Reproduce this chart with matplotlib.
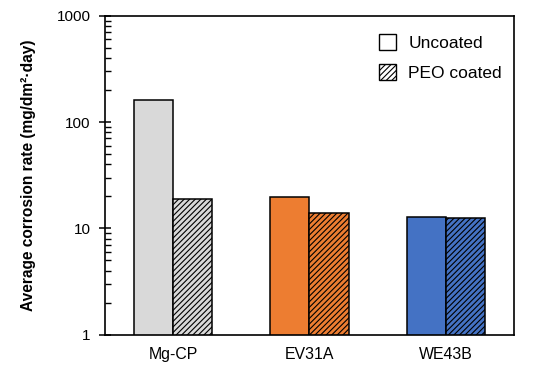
import numpy as np
import matplotlib
matplotlib.use('Agg')
import matplotlib.pyplot as plt
from matplotlib.patches import Patch

plt.rcParams['font.family'] = ['Liberation Sans', 'DejaVu Sans']
plt.rcParams['hatch.linewidth'] = 0.8

alloys = ['Mg-CP', 'EV31A', 'WE43B']
uncoated = [160, 19.7, 12.8]
peo_coated = [18.8, 13.9, 12.4]
colors = ['#d9d9d9', '#ed7d31', '#4472c4']

fig = plt.figure(figsize=(5.47, 3.69), dpi=100)
ax = fig.add_axes([0.1914, 0.093, 0.7483, 0.8645])

x = np.arange(len(alloys))
w = 0.287
ax.bar(x - w/2, uncoated, w, color=colors, edgecolor='black', linewidth=1.1)
ax.bar(x + w/2, peo_coated, w, color=colors, edgecolor='black', linewidth=1.1, hatch='//////')

ax.set_yscale('log')
ax.set_ylim(1, 1000)
ax.set_xlim(-0.5, 2.5)
ax.set_xticks(x)
ax.set_xticklabels(alloys, fontsize=11.4)
ax.set_yticks([1, 10, 100, 1000])
ax.set_yticklabels(['1', '10', '100', '1000'], fontsize=11)
ax.tick_params(axis='x', length=0, pad=9)
ax.tick_params(axis='y', which='major', direction='inout', length=8, width=1.1, pad=6)
ax.tick_params(axis='y', which='minor', direction='in', length=4, width=1.0)
for s in ax.spines.values():
    s.set_linewidth(1.2)

ax.set_ylabel('Average corrosion rate (mg/dm²·day)', fontsize=11.2, fontweight='bold')
ax.yaxis.set_label_coords(-0.168, 0.5)

handles = [Patch(facecolor='white', edgecolor='black', linewidth=1.0, label='Uncoated'),
           Patch(facecolor='white', edgecolor='black', linewidth=1.0, hatch='//////', label='PEO coated')]
ax.legend(handles=handles, loc='upper right', bbox_to_anchor=(1.009, 0.99), frameon=False,
          fontsize=12.5, handlelength=1.0, handleheight=1.0, handletextpad=0.7, labelspacing=0.75)

fig.savefig('out.png', dpi=100)
